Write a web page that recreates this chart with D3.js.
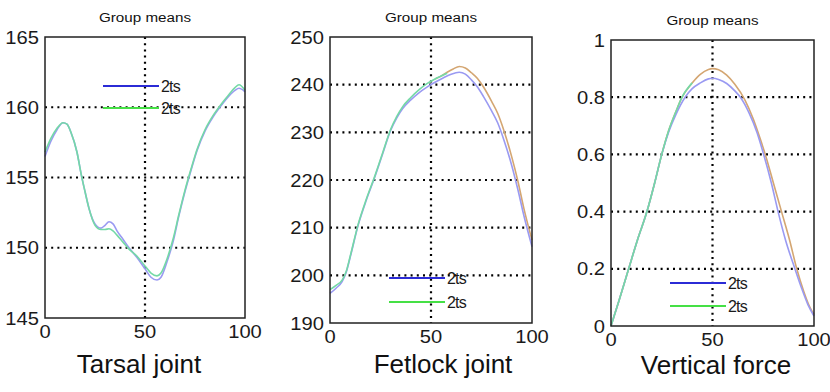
<!DOCTYPE html>
<html>
<head>
<meta charset="utf-8">
<script src="https://cdn.jsdelivr.net/npm/d3@7"></script>
<style>
  body { margin:0; background:#fff; }
  svg { display:block; font-family:"Liberation Sans", Arial, sans-serif; }
</style>
</head>
<body>
<div id="chart"></div>
<script>
// percent of stance, group means per joint
const tarsalBlueX  = [0,3,6,9,11,13,16,18,20,22,25,28,30,32,34,36,39,42,46,50,53,56,58,61,64,67,70,73,76,80,84,88,92,95,97,100];
const tarsalBlue   = [156.5,157.6,158.4,158.9,158.8,158.2,156.8,155.3,154.0,152.8,151.7,151.4,151.6,151.85,151.7,151.2,150.6,150.0,149.3,148.5,147.9,147.7,147.9,149.0,150.4,152.3,154.0,155.5,156.9,158.3,159.3,160.1,160.8,161.2,161.35,161.1];
const tarsalGreenX = [0,3,6,9,11,13,16,18,20,22,25,28,30,32,34,36,39,42,46,50,53,56,58,61,64,67,70,73,76,80,84,88,92,95,97,100];
const tarsalGreen  = [156.8,157.8,158.5,158.9,158.8,158.2,156.8,155.3,154.0,152.8,151.6,151.3,151.3,151.35,151.2,150.9,150.4,149.9,149.4,148.7,148.2,148.0,148.2,149.2,150.6,152.4,154.1,155.6,157.0,158.4,159.4,160.2,160.9,161.4,161.6,161.2];

const fetlockBlueX   = [0,3,6,8,10,14,18,22,26,30,33,36,40,44,48,52,56,60,64,67,70,73,76,80,83,86,90,93,96,100];
const fetlockBlue    = [196.2,197.3,198.7,200.6,203.8,210.6,215.8,220.4,225.4,230.4,233,235,236.8,238.3,239.5,240.5,241.4,242.2,242.6,242.2,241,239.5,237.5,234.5,232,228.5,223,218,212.5,206];
const fetlockGreenX  = [0,3,6,8,10,14,18,22,26,30,33,36,40,44,48,52,55,58];
const fetlockGreen   = [197,197.9,199,200.8,204,210.8,216,220.6,225.6,230.6,233.3,235.4,237.3,238.9,240.2,241.2,241.8,242.4];
const fetlockOrangeX = [52,55,58,61,64,67,70,73,76,80,83,86,90,93,96,100];
const fetlockOrange  = [241.2,241.8,242.6,243.3,243.8,243.5,242.5,241.3,239.5,236.5,234,230.5,224.8,219.8,214,207.4];

const forceBlueX   = [0,4,8.7,13,17.7,21.5,25,28.5,32,36.5,40,44,48,50,53,57,61,64,68,72,75,79,82.3,86,90.6,94,97,100];
const forceBlue    = [0,0.09,0.2,0.3,0.4,0.5,0.6,0.68,0.74,0.8,0.83,0.85,0.864,0.866,0.862,0.848,0.822,0.797,0.745,0.675,0.605,0.5,0.4,0.3,0.2,0.13,0.075,0.035];
const forceOrangeX = [0,4,8.7,13,17.7,21.5,25,28.5,32,35,40,44,48,50,53,57,61,66,70,73,76,80,84,88,91.5,95,98,100];
const forceOrange  = [0,0.09,0.2,0.3,0.4,0.5,0.6,0.685,0.75,0.8,0.85,0.88,0.897,0.9,0.896,0.877,0.845,0.79,0.725,0.665,0.6,0.5,0.4,0.3,0.2,0.12,0.065,0.04];
const forceGreenX  = [0,4,8.7,13,17.7,21.5,25,28.5,32,35,40];
const forceGreen   = [0,0.09,0.2,0.3,0.4,0.5,0.6,0.685,0.75,0.8,0.85];

const xTicks = [0,50,100];
const tarsalTicks  = [145,150,155,160,165];
const fetlockTicks = [190,200,210,220,230,240,250];
const forceTicks   = [0,0.2,0.4,0.6,0.8,1];

const legendLabels = ['2ts','2ts'];
const TITLE = 'Group means';

const GroupMeans = function(){
  const W = 830, H = 392,
        BLUE = '#9a9af2', GREEN = '#74d9a6', ORANGE = '#d4a672',
        LEG_COLORS = ['#2b2bd6','#45e045'];

  const pair = (xs, ys) => xs.map((x, i) => [x, ys[i]]);

  const panels = [
    { name:'Tarsal joint', box:{l:45,r:245,t:37,b:318}, yDom:[145,165], yTicks:tarsalTicks,
      series:[{d:pair(tarsalBlueX,tarsalBlue),c:BLUE},{d:pair(tarsalGreenX,tarsalGreen),c:GREEN}],
      legend:{x:103,y:86,gap:22}, label:{x:139,y:373} },
    { name:'Fetlock joint', box:{l:330,r:532,t:37,b:323}, yDom:[190,250], yTicks:fetlockTicks,
      series:[{d:pair(fetlockOrangeX,fetlockOrange),c:ORANGE},{d:pair(fetlockBlueX,fetlockBlue),c:BLUE},{d:pair(fetlockGreenX,fetlockGreen),c:GREEN}],
      legend:{x:389,y:278,gap:24}, label:{x:443,y:373} },
    { name:'Vertical force', box:{l:611,r:814,t:40,b:326}, yDom:[0,1], yTicks:forceTicks,
      series:[{d:pair(forceOrangeX,forceOrange),c:ORANGE},{d:pair(forceBlueX,forceBlue),c:BLUE},{d:pair(forceGreenX,forceGreen),c:GREEN}],
      legend:{x:670,y:283,gap:23}, label:{x:716,y:374} }
  ];

  const drawPanel = (svg, p) => {
    const {l, r, t, b} = p.box;
    const x = d3.scaleLinear().domain([0,100]).range([l, r]);
    const y = d3.scaleLinear().domain(p.yDom).range([b, t]);
    const g = svg.append('g');

    // dotted grid, matlab style
    g.selectAll('.hgrid')
      .data(p.yTicks.slice(1, -1))
      .enter().append('line')
      .attr('x1', l).attr('x2', r)
      .attr('y1', d => y(d)).attr('y2', d => y(d))
      .attr('stroke', '#000').attr('stroke-width', 2.2)
      .attr('stroke-dasharray', '2,4.2');
    g.selectAll('.vgrid')
      .data(xTicks.slice(1, -1))
      .enter().append('line')
      .attr('x1', d => x(d)).attr('x2', d => x(d))
      .attr('y1', t).attr('y2', b)
      .attr('stroke', '#000').attr('stroke-width', 2.2)
      .attr('stroke-dasharray', '2,4.2');

    const line = d3.line()
      .x(d => x(d[0]))
      .y(d => y(d[1]))
      .curve(d3.curveMonotoneX);

    p.series.forEach(s => {
      g.append('path')
        .attr('d', line(s.d))
        .attr('fill', 'none')
        .attr('stroke', s.c)
        .attr('stroke-width', 1.6);
    });

    g.append('rect')
      .attr('x', l).attr('y', t)
      .attr('width', r - l).attr('height', b - t)
      .attr('fill', 'none').attr('stroke', '#222').attr('stroke-width', 1.5);

    // tick labels, slightly widened like the original scan
    g.selectAll('.ytl')
      .data(p.yTicks)
      .enter().append('text')
      .attr('transform', d => `translate(${l - 6},${y(d) + 6.5}) scale(1.12,1)`)
      .attr('text-anchor', 'end')
      .attr('font-size', 18)
      .attr('fill', '#1a1a1a')
      .text(d => d);
    g.selectAll('.xtl')
      .data(xTicks)
      .enter().append('text')
      .attr('transform', d => `translate(${x(d)},${b + 20}) scale(1.12,1)`)
      .attr('text-anchor', 'middle')
      .attr('font-size', 18)
      .attr('fill', '#1a1a1a')
      .text(d => d);

    g.append('text')
      .attr('x', (l + r) / 2)
      .attr('y', t - 15)
      .attr('text-anchor', 'middle')
      .attr('font-size', 12)
      .attr('textLength', 92)
      .attr('lengthAdjust', 'spacingAndGlyphs')
      .attr('fill', '#111')
      .text(TITLE);

    const leg = g.selectAll('.leg')
      .data(legendLabels)
      .enter().append('g')
      .attr('transform', (d, i) => `translate(${p.legend.x},${p.legend.y + i * p.legend.gap})`);
    leg.append('line')
      .attr('x1', 0).attr('x2', 56)
      .attr('stroke', (d, i) => LEG_COLORS[i])
      .attr('stroke-width', 2.2);
    leg.append('text')
      .attr('x', 58).attr('y', 6)
      .attr('font-size', 16)
      .attr('letter-spacing', -0.8)
      .attr('fill', '#1a1a1a')
      .text(d => d);

    svg.append('text')
      .attr('x', p.label.x)
      .attr('y', p.label.y)
      .attr('text-anchor', 'middle')
      .attr('font-size', 26)
      .attr('fill', '#111')
      .text(p.name);
  };

  const plot = () => {
    const svg = d3.select('#chart').append('svg')
      .attr('width', W).attr('height', H);
    panels.forEach(p => drawPanel(svg, p));
  };

  return { plot:plot };
}();

document.addEventListener('DOMContentLoaded', GroupMeans.plot);
</script>
</body>
</html>
